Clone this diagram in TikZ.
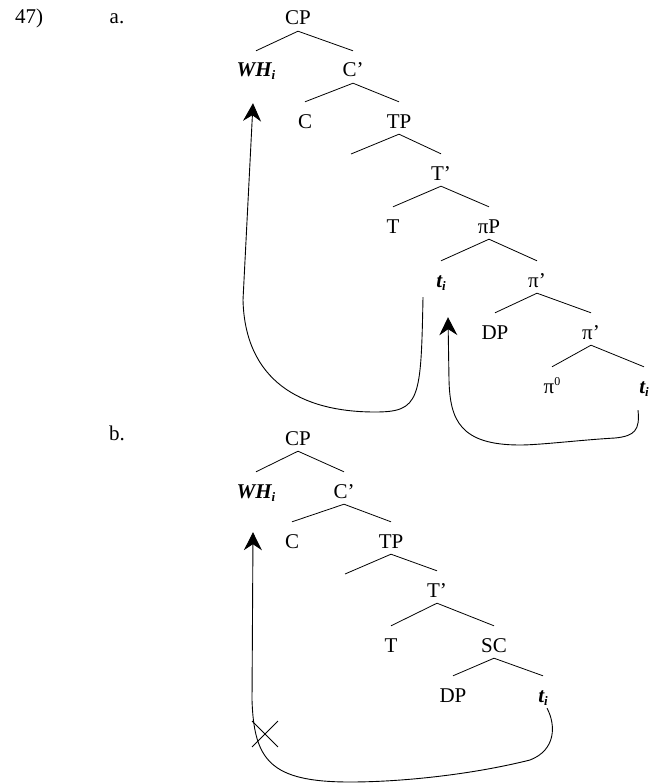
\documentclass[tikz,border=0pt]{standalone}
\usepackage{fontspec}
\setmainfont{Liberation Serif}
\usetikzlibrary{arrows.meta,shapes.misc}
\newcommand{\trsub}[1]{\raisebox{-3pt}{\fontsize{13}{14}\selectfont #1}}
\newcommand{\trsup}[1]{\raisebox{8pt}{\fontsize{12}{14}\selectfont #1}}
\tikzset{
  lbl/.style={anchor=base, inner sep=0pt, text height=26pt, text depth=6pt, font=\fontsize{21}{24}\selectfont},
  branch/.style={line width=0.8pt},
  mv/.style={line width=0.9pt, -{Stealth[length=18pt,width=18pt,inset=6pt]}}
}
\begin{document}
\begin{tikzpicture}[x=1pt, y=-1pt]
    \useasboundingbox (0,0) rectangle (652,784);
    % tree a
    \node (num) [lbl] at (29,24) {47)};
    \node (laba) [lbl] at (117,24) {a.};
    \node (cpa) [lbl] at (298,25) {CP};
    \node (wha) [lbl] at (256,77) {\textbf{\textit{WH\trsub{i}}}};
    \node (cba) [lbl] at (353,77) {C’};
    \node (ca) [lbl] at (305,128) {C};
    \node (tpa) [lbl] at (399,128) {TP};
    \coordinate (speca) at (351,154);
    \node (tba) [lbl] at (441,180) {T’};
    \node (theada) [lbl] at (393,233) {T};
    \node (pipa) [lbl] at (489,233) {πP};
    \node (tra1) [lbl] at (441,287) {\textbf{\textit{t\trsub{i}}}};
    \node (pba1) [lbl] at (537,287) {π’};
    \node (dpa) [lbl] at (495,339) {DP};
    \node (pba2) [lbl] at (591,339) {π’};
    \node (pia0) [lbl] at (552,393) {π\trsup{0}};
    \node (tra2) [lbl] at (644,393) {\textbf{\textit{t\trsub{i}}}};
    \draw [branch] (wha.north) -- (cpa.south) -- (cba.north);
    \draw [branch] (ca.north) -- (cba.south) -- (tpa.north);
    \draw [branch] (speca) -- (tpa.south) -- (tba.north);
    \draw [branch] (theada.north) -- (tba.south) -- (pipa.north);
    \draw [branch] (tra1.north) -- (pipa.south) -- (pba1.north);
    \draw [branch] (dpa.north) -- (pba1.south) -- (pba2.north);
    \draw [branch] (pia0.north) -- (pba2.south) -- (tra2.north);
    % movement in a
    \draw [mv] ([xshift=-18pt,yshift=-4pt]tra1.south) .. controls (421,400) and (420,412) .. (375,412)
        .. controls (300,412) and (245,380) .. (243,300) -- ([xshift=-3pt,yshift=-20pt]wha.south);
    \draw [mv] ([xshift=-6pt,yshift=-11pt]tra2.south) .. controls (640,430) and (635,436) .. (615,438)
        .. controls (580,440) and (540,445) .. (520,445)
        .. controls (460,445) and (450,420) .. (449,380) -- ([xshift=7pt,yshift=-24pt]tra1.south);
    % tree b
    \node (labb) [lbl] at (117,440) {b.};
    \node (cpb) [lbl] at (298,445) {CP};
    \node (whb) [lbl] at (256,498) {\textbf{\textit{WH\trsub{i}}}};
    \node (cbb) [lbl] at (344,498) {C’};
    \node (cb) [lbl] at (292,548) {C};
    \node (tpb) [lbl] at (391,548) {TP};
    \coordinate (specb) at (345,574);
    \node (tbb) [lbl] at (437,597) {T’};
    \node (theadb) [lbl] at (391,652) {T};
    \node (scb) [lbl] at (494,652) {SC};
    \node (dpb) [lbl] at (453,702) {DP};
    \node (trb) [lbl] at (543,702) {\textbf{\textit{t\trsub{i}}}};
    \draw [branch] (whb.north) -- (cpb.south) -- (cbb.north);
    \draw [branch] (cb.north) -- (cbb.south) -- (tpb.north);
    \draw [branch] (specb) -- (tpb.south) -- (tbb.north);
    \draw [branch] (theadb.north) -- (tbb.south) -- (scb.north);
    \draw [branch] (dpb.north) -- (scb.south) -- (trb.north);
    % blocked movement in b
    \draw [mv] ([xshift=4pt]trb.south) .. controls (556,725) and (556,750) .. (530,760)
        .. controls (470,775) and (400,782) .. (350,782)
        .. controls (270,782) and (254,760) .. (252,700) -- ([xshift=-3pt,yshift=-28pt]whb.south);
    \node (blk) [draw, cross out, minimum size=25pt, inner sep=0pt, line width=0.9pt] at (265,734) {};
\end{tikzpicture}
\end{document}
